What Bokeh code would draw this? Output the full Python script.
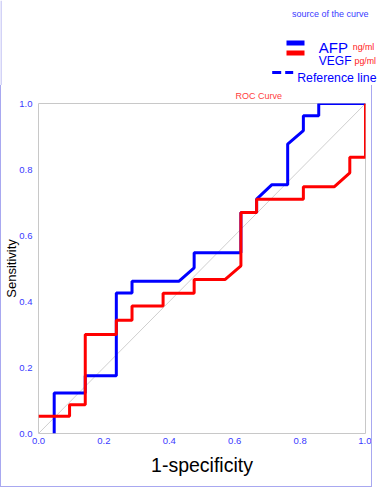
from bokeh.plotting import figure
from bokeh.layouts import column
from bokeh.models import Range1d, FixedTicker
from bokeh.core.properties import value
from bokeh.embed import file_html
from bokeh.resources import INLINE

# ---- data ----
afp_fpr = [0.048, 0.048, 0.143, 0.143, 0.238, 0.238, 0.286, 0.286, 0.429, 0.476, 0.476,
           0.619, 0.619, 0.667, 0.667, 0.714, 0.762, 0.762, 0.810, 0.810, 0.857, 0.857, 1.0]
afp_tpr = [0.0, 0.123, 0.123, 0.175, 0.175, 0.426, 0.426, 0.461, 0.461, 0.502, 0.548,
           0.548, 0.670, 0.670, 0.710, 0.754, 0.754, 0.877, 0.918, 0.963, 0.963, 1.0, 1.0]

vegf_fpr = [0.0, 0.095, 0.095, 0.143, 0.143, 0.238, 0.238, 0.286, 0.286, 0.381, 0.381,
            0.476, 0.476, 0.571, 0.619, 0.619, 0.667, 0.667, 0.810, 0.810, 0.905, 0.952,
            0.952, 1.0, 1.0]
vegf_tpr = [0.052, 0.052, 0.087, 0.087, 0.300, 0.300, 0.343, 0.343, 0.386, 0.386, 0.425,
            0.425, 0.467, 0.467, 0.508, 0.670, 0.670, 0.710, 0.710, 0.748, 0.748, 0.790,
            0.837, 0.837, 1.0]

ref_x = [0.0, 1.0]
ref_y = [0.0, 1.0]

tick_values = [0.0, 0.2, 0.4, 0.6, 0.8, 1.0]
tick_labels = ["0.0", "0.2", "0.4", "0.6", "0.8", "1.0"]

series_names = ["AFP", "VEGF"]
series_units = ["ng/ml", "pg/ml"]
series_colors = ["#0000ff", "#ff0000"]

FONT = value("Liberation Sans")
TICK_BLUE = "#3a3aff"
BORDER = "#a8a8f0"

# ---------------- header strip: legend (pixel coordinates) ----------------
TOP_H = 85
top = figure(width=381, height=TOP_H, output_backend="svg", toolbar_location=None,
             x_range=Range1d(0, 381), y_range=Range1d(TOP_H, 0),
             x_axis_location=None, y_axis_location=None,
             min_border=0, min_border_left=0, min_border_right=0,
             min_border_top=0, min_border_bottom=0)
top.frame_align = False
top.outline_line_color = None
top.grid.visible = False

# left border continues through the header
top.segment(x0=[0.5], y0=[0], x1=[0.5], y1=[TOP_H], line_color=BORDER, line_width=1)

top.text(x=[291.5], y=[13.5], text=["source of the curve"], text_font=FONT,
         text_font_size="9px", text_color=TICK_BLUE, text_align="left", text_baseline="middle")

bar_tops = [40, 50]
name_base = [46.7, 60.7]
name_sizes = ["15px", "12px"]
unit_x = [352.3, 354]
for i in range(2):
    top.quad(left=[286], right=[304], top=[bar_tops[i]], bottom=[bar_tops[i] + 5],
             fill_color=series_colors[i], line_color=None)
    top.text(x=[318.3], y=[name_base[i]], text=[series_names[i]], text_font=FONT,
             text_font_size=name_sizes[i], text_color="#0000ff",
             text_align="left", text_baseline="alphabetic")
    top.text(x=[unit_x[i]], y=[name_base[i]], text=[series_units[i]], text_font=FONT,
             text_font_size="8.8px", text_color="#ff2020",
             text_align="left", text_baseline="alphabetic")

top.line(x=[271.7, 292.7], y=[72, 72], line_color="#0000ff", line_width=3, line_dash="9 4")
top.text(x=[296.7], y=[77], text=["Reference line"], text_font=FONT, text_font_size="12.3px",
         text_color="#0000ff", text_align="left", text_baseline="alphabetic")

# ---------------- main ROC plot ----------------
p = figure(width=372, height=487 - TOP_H, output_backend="svg", toolbar_location=None,
           x_range=Range1d(0, 1), y_range=Range1d(0, 1),
           min_border_left=0, min_border_right=8, min_border_top=18, min_border_bottom=54)
p.frame_align = False
p.outline_line_color = "#c8c8c8"
p.grid.visible = False
p.styles = {"border-left": f"1px solid {BORDER}", "border-right": f"1px solid {BORDER}",
            "border-bottom": f"1px solid {BORDER}", "box-sizing": "border-box"}

p.title.text = "ROC Curve"
p.title.text_font = "Liberation Sans"
p.title.text_font_size = "9px"
p.title.text_font_style = "normal"
p.title.text_color = "#ff4040"
p.title.align = "left"
p.title.offset = 197
p.title.standoff = 6

for ax in (p.xaxis[0], p.yaxis[0]):
    ax.ticker = FixedTicker(ticks=tick_values)
    ax.major_label_overrides = {v: s for v, s in zip(tick_values, tick_labels)}
    ax.axis_line_color = None
    ax.major_tick_line_color = None
    ax.minor_tick_line_color = None
    ax.major_tick_out = 0
    ax.major_tick_in = 0
    ax.minor_tick_out = 0
    ax.minor_tick_in = 0
    ax.major_label_text_font = "Liberation Sans"
    ax.major_label_text_font_size = "9.5px"
    ax.major_label_text_color = TICK_BLUE
    ax.axis_label_text_font = "Liberation Sans"
    ax.axis_label_text_font_style = "normal"
    ax.axis_label_text_color = "#000000"

p.xaxis.axis_label = "1-specificity"
p.xaxis.axis_label_text_font_size = "19.5px"
p.xaxis.major_label_standoff = 4
p.xaxis.axis_label_standoff = 7

p.yaxis.axis_label = "Sensitivity"
p.yaxis.axis_label_text_font_size = "13px"
p.yaxis.major_label_standoff = 6
p.yaxis.axis_label_standoff = -3

p.line(ref_x, ref_y, line_color="#cfcfcf", line_width=1)
p.line(afp_fpr, afp_tpr, line_color=series_colors[0], line_width=3)
p.line(vegf_fpr, vegf_tpr, line_color=series_colors[1], line_width=3)

layout = column(top, p, spacing=0)
open("out.html", "w").write(file_html(layout, INLINE))
